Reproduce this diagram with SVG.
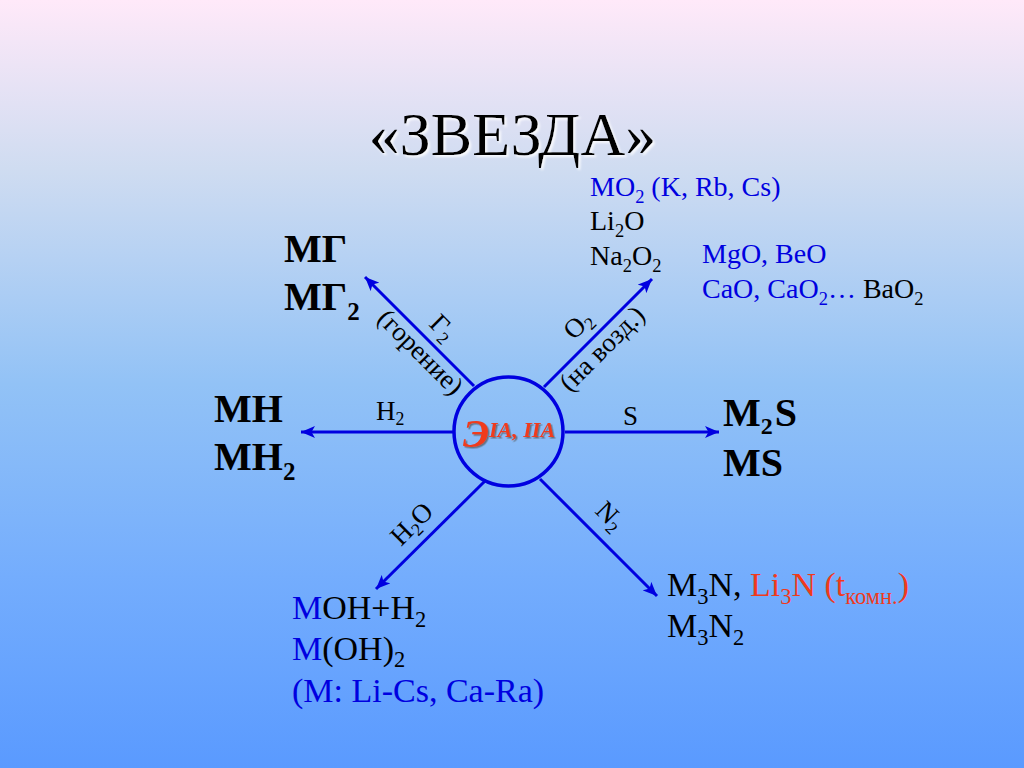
<svg xmlns="http://www.w3.org/2000/svg" width="1024" height="768" viewBox="0 0 1024 768">
<style>
text{font-family:"Liberation Serif","Times New Roman",serif;fill:#000}
.b{fill:#0000e0}
.r{fill:#f03a1c}
.m{font-size:28px}
.s{font-size:34px}
.big{font-size:40px;font-weight:bold}
.lab{font-size:27px}
.sub{font-size:.66em}
.ln{stroke:#0000e0;stroke-width:3;fill:none;marker-end:url(#a)}
</style>
<defs>
<linearGradient id="bg" x1="0" y1="0" x2="0" y2="1">
<stop offset="0" stop-color="#ffe9f9"/>
<stop offset=".22" stop-color="#cfdcf1"/>
<stop offset=".5" stop-color="#92c2f6"/>
<stop offset=".75" stop-color="#74adfd"/>
<stop offset="1" stop-color="#5a9aff"/>
</linearGradient>
<marker id="a" markerUnits="userSpaceOnUse" markerWidth="16" markerHeight="12" refX="14" refY="6" orient="auto">
<path d="M0 0L14 6L0 12L3.5 6Z" fill="#0000e0"/>
</marker>
<filter id="sh" x="-10%" y="-10%" width="120%" height="130%">
<feDropShadow dx="2" dy="2" stdDeviation="1" flood-color="#fff" flood-opacity=".85"/>
</filter>
<filter id="sh2" x="-10%" y="-10%" width="120%" height="130%">
<feDropShadow dx="1.5" dy="1.5" stdDeviation=".6" flood-color="#555" flood-opacity=".7"/>
</filter>
</defs>
<rect id="background" width="1024" height="768" fill="url(#bg)"/>
<g id="title"><text x="512.5" y="155" text-anchor="middle" font-size="62" filter="url(#sh)">«ЗВЕЗДА»</text></g>
<g id="connectors">
<line class="ln" x1="453" y1="432" x2="301" y2="432"/>
<line class="ln" x1="565" y1="432" x2="719" y2="432"/>
<line class="ln" x1="474" y1="386" x2="365" y2="277"/>
<line class="ln" x1="544" y1="387" x2="652" y2="279"/>
<line class="ln" x1="486" y1="480" x2="376" y2="589"/>
<line class="ln" x1="540" y1="479" x2="657" y2="596"/>
</g>
<g id="center">
<circle cx="508.5" cy="431.5" r="54.5" fill="none" stroke="#0000e0" stroke-width="3.5"/>
<text x="463" y="447" font-size="40" font-weight="bold" font-style="italic" class="r" filter="url(#sh2)">Э<tspan font-size="22" dy="-10">IA, IIA</tspan></text>
</g>
<g id="label-h2"><text x="376" y="420" class="lab">H<tspan class="sub" dy="5">2</tspan></text></g>
<g id="label-s"><text x="623" y="425" class="lab">S</text></g>
<g id="label-g2"><text transform="translate(428 325) rotate(45)" class="lab">Г<tspan class="sub" dy="5">2</tspan></text></g>
<g id="label-gor"><text transform="translate(376 320) rotate(45)" class="lab">(горение)</text></g>
<g id="label-o2"><text transform="translate(574 341) rotate(-45)" class="lab">O<tspan class="sub" dy="5">2</tspan></text></g>
<g id="label-voz"><text transform="translate(570 393) rotate(-45)" class="lab">(на возд.)</text></g>
<g id="label-h2o"><text transform="translate(401 547) rotate(-45)" class="lab">H<tspan class="sub" dy="5">2</tspan><tspan dy="-5">O</tspan></text></g>
<g id="label-n2"><text transform="translate(594 512) rotate(45)" class="lab">N<tspan class="sub" dy="5">2</tspan></text></g>
<g id="node-mg"><text x="284" y="262" class="big">МГ</text><text x="284" y="310" class="big">МГ<tspan font-size="25" dy="10">2</tspan></text></g>
<g id="node-mh"><text x="214" y="422" class="big">МН</text><text x="214" y="470" class="big">МН<tspan font-size="25" dy="10">2</tspan></text></g>
<g id="node-m2s"><text x="723" y="426" class="big">М<tspan font-size="24" dy="8">2</tspan><tspan dx="2" dy="-8">S</tspan></text><text x="723" y="476" class="big">MS</text></g>
<g id="node-o">
<text x="590" y="196" class="m b">MO<tspan class="sub" dy="7">2</tspan><tspan dy="-7"> (K, Rb, Cs)</tspan></text>
<text x="590" y="230" class="m">Li<tspan class="sub" dy="7">2</tspan><tspan dy="-7">O</tspan></text>
<text x="590" y="265" class="m">Na<tspan class="sub" dy="7">2</tspan><tspan dy="-7">O</tspan><tspan class="sub" dy="7">2</tspan></text>
</g>
<g id="node-mgo">
<text x="702" y="263" class="m b">MgO, BeO</text>
<text x="702" y="298" class="m"><tspan class="b">CaO, CaO</tspan><tspan class="sub b" dy="7">2</tspan><tspan class="b" dy="-7">…</tspan> BaO<tspan class="sub" dy="7">2</tspan></text>
</g>
<g id="node-n">
<text x="667" y="596" class="s">M<tspan class="sub" dy="8">3</tspan><tspan dy="-8">N, </tspan><tspan class="r">Li</tspan><tspan class="sub r" dy="8">3</tspan><tspan class="r" dy="-8">N (t</tspan><tspan class="sub r" dy="8">комн.</tspan><tspan class="r" dy="-8">)</tspan></text>
<text x="667" y="637" class="s">M<tspan class="sub" dy="8">3</tspan><tspan dy="-8">N</tspan><tspan class="sub" dy="8">2</tspan></text>
</g>
<g id="node-oh">
<text x="292" y="619" class="s"><tspan class="b">M</tspan>OH+H<tspan class="sub" dy="8">2</tspan></text>
<text x="292" y="660" class="s"><tspan class="b">M</tspan>(OH)<tspan class="sub" dy="7">2</tspan></text>
<text x="292" y="702" class="s b">(M: Li-Cs, Ca-Ra)</text>
</g>
</svg>
